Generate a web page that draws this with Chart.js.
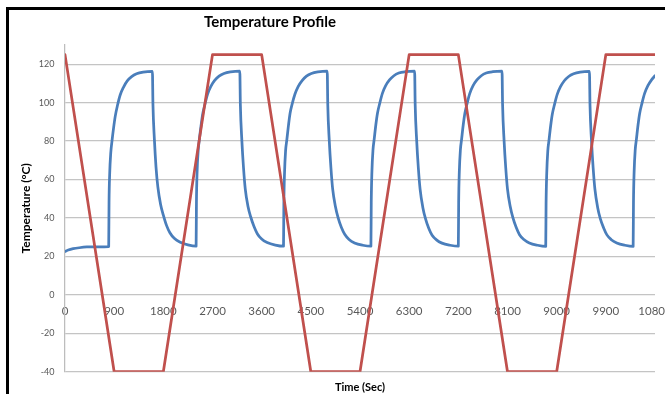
<!DOCTYPE html>
<html>
<head>
<meta charset="utf-8">
<title>Temperature Profile</title>
<script src="https://cdn.jsdelivr.net/npm/chart.js@4.4.1/dist/chart.umd.min.js"></script>
<style>
  html, body { margin: 0; padding: 0; background: #fff; overflow: hidden; }
  #frame {
    position: absolute; left: 6px; top: 7px; width: 700px; height: 400px;
    border-left: 3px solid #000; border-top: 3px solid #000;
  }
  #profile { display: block; }
</style>
</head>
<body>
<div id="frame"><canvas id="profile" width="656" height="384"></canvas></div>
<script>
// Chamber set-point: ramp / dwell, times in seconds
const chamberTime = [0, 900, 1800, 2700, 3600, 4500, 5400, 6300, 7200, 8100, 9000, 9900, 10800];
const chamberTemp = [125, -40, -40, 125, 125, -40, -40, 125, 125, -40, -40, 125, 125];

// Measured part temperature (one line per heat-up / cool-down)
const partTime = [
    0, 60, 150, 260, 400, 600, 800,
    806, 818, 838, 860, 890, 920, 960, 1010, 1070, 1140, 1220, 1310, 1430, 1600,
    1610, 1636, 1666, 1700, 1750, 1800, 1860, 1920, 2000, 2100, 2250, 2400,
    2406, 2418, 2438, 2460, 2490, 2520, 2560, 2610, 2670, 2740, 2820, 2910, 3030, 3200,
    3210, 3238, 3268, 3300, 3350, 3400, 3460, 3520, 3600, 3700, 3850, 4000,
    4006, 4018, 4038, 4060, 4090, 4120, 4160, 4210, 4270, 4340, 4420, 4510, 4630, 4800,
    4810, 4838, 4868, 4900, 4950, 5000, 5060, 5120, 5200, 5300, 5450, 5600,
    5606, 5618, 5638, 5660, 5690, 5720, 5760, 5810, 5870, 5940, 6020, 6110, 6230, 6400,
    6410, 6438, 6468, 6500, 6550, 6600, 6660, 6720, 6800, 6900, 7050, 7200,
    7206, 7218, 7238, 7260, 7290, 7320, 7360, 7410, 7470, 7540, 7620, 7710, 7830, 8000,
    8010, 8038, 8068, 8100, 8150, 8200, 8260, 8320, 8400, 8500, 8650, 8800,
    8806, 8818, 8838, 8860, 8890, 8920, 8960, 9010, 9070, 9140, 9220, 9310, 9430, 9600,
    9610, 9638, 9668, 9700, 9750, 9800, 9860, 9920, 10000, 10100, 10250, 10400,
    10406, 10418, 10438, 10460, 10490, 10520, 10560, 10610, 10670, 10740, 10800
];
const partTemp = [
    22.5, 23.3, 24, 24.5, 24.9, 25, 25.1,
    48, 63, 74, 80, 87, 93, 98.5, 104, 108, 111.3, 113.5, 115, 115.9, 116.3,
    99, 81, 66.5, 56, 47, 41.5, 36, 32.3, 29.4, 27.5, 26, 25.3,
    48, 64, 75, 81, 88, 94, 99, 104.5, 108.5, 111.6, 113.8, 115.2, 116, 116.4,
    99, 80, 66, 55, 46, 40.5, 35.5, 31.8, 29, 27.2, 25.9, 25.3,
    47, 63, 75, 80.5, 88, 94.5, 99.5, 104.5, 108.5, 111.5, 113.8, 115.2, 116, 116.4,
    99, 80, 66, 55, 46, 40, 35, 31.5, 28.8, 27, 25.8, 25.3,
    48, 64, 75.5, 81, 88.5, 94.5, 99.5, 104.8, 108.8, 111.8, 114, 115.4, 116.1, 116.4,
    99, 80, 66, 55, 45.5, 39.5, 34.5, 31, 28.6, 26.9, 25.8, 25.3,
    48, 64, 75.5, 81, 88.5, 94.5, 99.5, 104.8, 108.8, 111.8, 114, 115.4, 116.1, 116.4,
    99, 80, 66, 55, 46, 40, 35, 31.3, 28.8, 27, 25.8, 25.2,
    47, 63, 75, 80.5, 88, 94, 99, 104.3, 108.3, 111.4, 113.6, 115, 115.9, 116.3,
    99, 80, 66, 55, 45.5, 39.5, 34.8, 31.2, 28.7, 27, 25.8, 25.2,
    48, 64, 75.5, 81, 88.5, 94.5, 99.5, 104.8, 108.8, 112, 114
];

// Axis ticks
const timeTicks = [0, 900, 1800, 2700, 3600, 4500, 5400, 6300, 7200, 8100, 9000, 9900, 10800];
const tempTicks = [-40, -20, 0, 20, 40, 60, 80, 100, 120];

const toPoints = (xs, ys) => xs.map((x, i) => ({ x: x, y: ys[i] }));

// Title sits left of centre, so it is painted by hand
const chartTitle = {
    id: 'chartTitle',
    afterDraw(chart) {
        const ctx = chart.ctx;
        ctx.save();
        ctx.font = 'bold 15px Lato';
        ctx.fillStyle = '#000';
        ctx.textAlign = 'center';
        ctx.textBaseline = 'alphabetic';
        ctx.fillText('Temperature Profile', 261, 16.5);
        ctx.restore();
    }
};

const gridGrey = '#c4c4c4';

new Chart(document.getElementById('profile'), {
    type: 'line',
    data: {
        datasets: [
            {
                label: 'Chamber',
                data: toPoints(chamberTime, chamberTemp),
                borderColor: '#c0504d',
                borderWidth: 2.75,
                pointRadius: 0,
                borderJoinStyle: 'round',
                borderCapStyle: 'round'
            },
            {
                label: 'Part',
                data: toPoints(partTime, partTemp),
                borderColor: '#4a7ebb',
                borderWidth: 2.75,
                pointRadius: 0,
                cubicInterpolationMode: 'monotone',
                borderJoinStyle: 'round',
                borderCapStyle: 'round'
            }
        ]
    },
    options: {
        responsive: false,
        animation: false,
        devicePixelRatio: 1,
        layout: { padding: { top: 35, right: 10, bottom: 0, left: 0 } },
        plugins: {
            legend: { display: false },
            tooltip: { enabled: false }
        },
        scales: {
            x: {
                type: 'linear',
                position: { y: 0 },
                min: 0,
                max: 10800,
                afterBuildTicks: (axis) => { axis.ticks = timeTicks.map((v) => ({ value: v })); },
                // let the last label run off the edge instead of shrinking the plot
                afterFit: (axis) => { axis.paddingLeft = 0; axis.paddingRight = 0; },
                grid: { display: false, drawTicks: false },
                border: { display: false },
                ticks: {
                    autoSkip: false,
                    maxRotation: 0,
                    padding: 10,
                    color: '#595959',
                    font: { family: 'Lato', size: 11.5 },
                    callback: (v) => String(v)
                }
            },
            xTitle: {
                type: 'linear',
                axis: 'x',
                position: 'bottom',
                afterFit: (axis) => { axis.height = 22.3; },
                grid: { display: false, drawTicks: false },
                border: { display: false },
                ticks: { display: false },
                title: {
                    display: true,
                    text: 'Time (Sec)',
                    color: '#000',
                    padding: { top: 5, bottom: 0 },
                    font: { family: 'Lato', size: 11, weight: 'bold' }
                }
            },
            y: {
                type: 'linear',
                min: -40,
                max: 130,
                afterBuildTicks: (axis) => { axis.ticks = tempTicks.map((v) => ({ value: v })); },
                afterFit: (axis) => { axis.width = 56; },
                grid: { color: gridGrey, lineWidth: 1.25, drawTicks: false },
                border: { display: true, color: '#bdbdbd', width: 1.25 },
                ticks: {
                    padding: 10.5,
                    color: '#595959',
                    font: { family: 'Lato', size: 9 }
                },
                title: {
                    display: true,
                    text: 'Temperature (°C)',
                    color: '#000',
                    padding: { top: 9.5, bottom: 0 },
                    font: { family: 'Lato', size: 12, weight: 'bold' }
                }
            }
        }
    },
    plugins: [chartTitle]
});
</script>
</body>
</html>
